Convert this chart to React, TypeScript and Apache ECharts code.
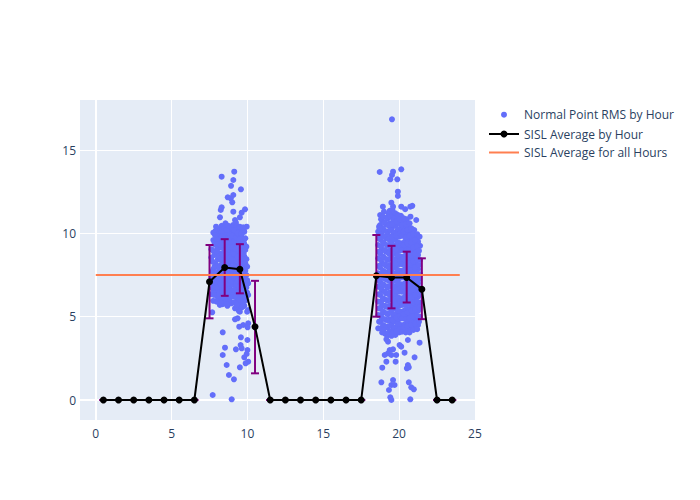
import React, { useEffect, useRef } from "react";
import * as echarts from "echarts";

// Hour bins and per-hour SISL averages with error ranges
const hours = [0.5, 1.5, 2.5, 3.5, 4.5, 5.5, 6.5, 7.5, 8.5, 9.5, 10.5, 11.5, 12.5, 13.5, 14.5, 15.5, 16.5, 17.5, 18.5, 19.5, 20.5, 21.5, 22.5, 23.5];
const avgByHour = [0, 0, 0, 0, 0, 0, 0, 7.1, 7.95, 7.85, 4.4, 0, 0, 0, 0, 0, 0, 0, 7.45, 7.35, 7.35, 6.65, 0, 0];
const errLow = [0, 0, 0, 0, 0, 0, 0, 4.9, 6.25, 6.4, 1.6, 0, 0, 0, 0, 0, 0, 0, 5.0, 5.5, 5.85, 4.85, 0, 0];
const errHigh = [0, 0, 0, 0, 0, 0, 0, 9.3, 9.65, 9.35, 7.15, 0, 0, 0, 0, 0, 0, 0, 9.9, 9.25, 8.9, 8.5, 0, 0];
const overallAvg = 7.5;
const overallRange = [0, 24];

const xTicks = [0, 5, 10, 15, 20, 25];
const yTicks = [0, 5, 10, 15];

// Morning cluster: isolated points
const amScattered: number[][] = [
  [9.13, 13.7], [8.3, 13.4], [9.07, 13.2], [8.92, 12.85], [9.57, 12.64], [8.7, 12.16], [9.07, 12.3], [8.9, 12.1],
  [9.0, 11.86], [8.3, 11.56], [8.24, 11.4], [9.07, 11.3], [9.84, 11.44], [9.62, 11.24], [8.19, 10.96], [9.5, 10.96],
  [9.24, 10.64], [9.95, 10.4], [9.72, 10.36], [7.93, 10.4], [7.75, 10.04], [7.86, 9.9], [8.3, 10.06], [8.34, 9.8],
  [7.75, 6.4], [7.8, 6.3], [8.26, 5.86], [8.63, 5.74], [9.29, 5.7], [7.68, 5.26], [9.68, 5.6], [9.5, 5.3],
  [9.18, 4.84], [9.35, 4.9], [9.72, 4.5], [9.46, 4.4], [10.01, 4.36], [8.37, 4.06], [9.57, 3.76], [10.0, 3.6],
  [8.52, 3.14], [9.24, 3.04], [9.55, 3.3], [9.62, 3.1], [10.0, 3.0], [9.95, 2.76], [9.79, 2.56], [10.05, 2.3],
  [9.88, 2.2], [8.37, 2.7], [9.5, 1.96], [8.63, 2.1], [8.78, 1.5], [9.11, 1.24], [7.71, 0.3], [8.96, 0.04],
];

// Morning cluster: dense core, by column
const amCore: [number, number[]][] = [
  [7.62, [6.35, 7.4, 8.55, 9.05]],
  [7.75, [5.95, 6.9, 7.85, 8.95, 9.6]],
  [7.9, [6.5, 7.3, 8.2, 9.3, 10.15]],
  [8.05, [6.15, 6.95, 7.65, 8.45, 9.1, 9.85]],
  [8.18, [5.7, 6.6, 7.35, 8.05, 8.8, 9.5, 10.25]],
  [8.3, [6.05, 6.8, 7.55, 8.35, 9.15, 9.7, 10.45]],
  [8.42, [5.85, 6.45, 7.15, 7.9, 8.65, 9.35, 10.05]],
  [8.55, [6.25, 6.95, 7.7, 8.4, 9.05, 9.8, 10.6]],
  [8.68, [5.65, 6.4, 7.05, 7.8, 8.55, 9.25, 9.95]],
  [8.8, [6.1, 6.75, 7.45, 8.2, 8.9, 9.6, 10.35]],
  [8.93, [5.8, 6.55, 7.25, 7.95, 8.7, 9.4, 10.1]],
  [9.05, [6.2, 6.9, 7.6, 8.3, 9.0, 9.75, 10.5]],
  [9.18, [5.5, 6.45, 7.15, 7.85, 8.6, 9.3, 10.05, 10.8]],
  [9.3, [5.95, 6.7, 7.4, 8.1, 8.85, 9.55, 10.25]],
  [9.43, [5.35, 6.25, 6.95, 7.65, 8.4, 9.1, 9.85]],
  [9.55, [5.8, 6.55, 7.3, 8.0, 8.75, 9.45, 10.15]],
  [9.68, [6.1, 6.85, 7.55, 8.25, 9.0, 9.7]],
  [9.8, [5.65, 6.4, 7.15, 7.9, 8.6, 9.35, 10.1]],
  [9.93, [6.0, 6.75, 7.5, 8.45, 9.2]],
  [10.05, [4.6, 5.4, 6.3, 7.0]],
];
const amCore2: [number, number[]][] = [
  [7.7, [6.7, 7.7, 8.3]],
  [7.83, [6.4, 7.1, 8.0, 8.7, 9.45]],
  [7.97, [5.9, 6.75, 7.5, 8.0, 8.9, 9.65]],
  [8.12, [6.4, 7.15, 7.9, 8.6, 9.35, 10.0]],
  [8.24, [5.95, 6.95, 7.75, 8.5, 9.3, 9.95]],
  [8.36, [5.75, 6.5, 7.2, 7.95, 8.75, 9.45, 10.2]],
  [8.48, [6.1, 6.75, 7.45, 8.2, 8.95, 9.6, 10.3]],
  [8.61, [5.95, 6.6, 7.35, 8.05, 8.75, 9.5, 10.2]],
  [8.74, [6.35, 7.0, 7.7, 8.35, 9.05, 9.75, 10.45]],
  [8.86, [5.9, 6.45, 7.15, 7.85, 8.55, 9.2, 9.95]],
  [8.99, [6.5, 7.1, 7.75, 8.45, 9.15, 9.85, 10.35]],
  [9.11, [5.85, 6.6, 7.35, 8.0, 8.8, 9.5, 10.2]],
  [9.24, [6.2, 6.95, 7.65, 8.4, 9.05, 9.75, 10.5]],
  [9.36, [5.6, 6.45, 7.15, 7.85, 8.6, 9.3, 10.0]],
  [9.49, [6.05, 6.8, 7.5, 8.2, 8.95, 9.65, 10.4]],
  [9.61, [5.55, 6.3, 7.05, 7.75, 8.5, 9.25, 9.95]],
  [9.74, [5.85, 6.6, 7.35, 8.05, 8.8, 9.5, 10.2]],
  [9.86, [6.2, 7.0, 7.75, 8.2, 9.0, 9.7]],
  [9.98, [5.3, 6.45, 7.2, 8.0]],
];

// Evening cluster: isolated points
const pmScattered: number[][] = [
  [19.53, 16.84], [18.72, 13.68], [19.6, 13.7], [19.53, 13.5], [20.14, 13.84], [19.42, 13.24], [19.88, 13.24],
  [19.92, 12.5], [19.92, 12.24], [18.93, 11.6], [19.49, 11.84], [19.6, 11.6], [20.14, 11.6], [20.74, 11.6],
  [20.87, 11.65], [20.4, 11.45], [21.13, 10.8], [21.35, 9.8], [18.72, 10.3],
  [18.98, 4.2], [21.35, 3.44], [19.16, 3.64], [19.27, 3.5], [20.58, 3.6], [20.03, 3.3], [20.14, 3.2],
  [19.38, 3.0], [19.6, 3.04], [19.27, 2.8], [19.49, 2.7], [19.05, 2.7], [20.36, 2.84], [21.02, 2.56],
  [19.81, 2.7], [19.77, 2.3], [19.16, 2.3], [20.58, 2.1], [20.51, 1.9], [20.64, 1.96], [18.89, 1.94],
  [18.83, 1.06], [19.6, 1.2], [19.49, 0.9], [19.7, 0.9], [19.33, 0.6], [20.64, 1.06], [20.8, 0.76],
  [20.97, 0.64], [19.42, 0.16], [19.49, 0.0], [20.74, 0.04],
];

// Evening cluster: dense core, by column
const pmCore: [number, number[]][] = [
  [18.62, [4.3, 5.1, 5.9, 6.8, 7.6, 8.5, 9.3, 10.1]],
  [18.75, [4.7, 5.5, 6.3, 7.1, 7.95, 8.8, 9.65, 10.5, 11.1]],
  [18.88, [4.05, 4.9, 5.7, 6.55, 7.35, 8.2, 9.0, 9.9, 10.75]],
  [19.0, [4.45, 5.25, 6.05, 6.9, 7.7, 8.55, 9.4, 10.2, 11.3]],
  [19.13, [3.95, 4.8, 5.6, 6.4, 7.25, 8.05, 8.9, 9.7, 10.55]],
  [19.25, [4.35, 5.15, 5.95, 6.75, 7.55, 8.4, 9.25, 10.05, 10.9]],
  [19.38, [4.1, 4.85, 5.65, 6.45, 7.3, 8.1, 8.95, 9.8, 10.6, 11.35]],
  [19.5, [3.85, 4.6, 5.4, 6.2, 7.0, 7.85, 8.65, 9.5, 10.3, 11.1]],
  [19.62, [4.25, 5.05, 5.85, 6.65, 7.45, 8.3, 9.1, 9.95, 10.8]],
  [19.75, [3.9, 4.7, 5.5, 6.3, 7.15, 7.95, 8.8, 9.6, 10.45, 11.2]],
  [19.88, [4.4, 5.2, 6.0, 6.85, 7.65, 8.5, 9.3, 10.15, 11.0]],
  [20.0, [4.05, 4.85, 5.65, 6.5, 7.3, 8.15, 8.95, 9.8, 10.6]],
  [20.12, [4.5, 5.3, 6.1, 6.95, 7.75, 8.6, 9.4, 10.3, 11.05]],
  [20.25, [4.15, 4.95, 5.75, 6.6, 7.4, 8.25, 9.05, 9.9, 10.7]],
  [20.38, [4.55, 5.4, 6.2, 7.0, 7.85, 8.65, 9.5, 10.35]],
  [20.5, [4.2, 5.0, 5.85, 6.7, 7.5, 8.3, 9.15, 10.0, 10.85]],
  [20.62, [4.6, 5.45, 6.3, 7.1, 7.95, 8.75, 9.6, 10.4]],
  [20.75, [4.3, 5.15, 5.95, 6.8, 7.6, 8.45, 9.25, 10.1, 11.0]],
  [20.88, [4.7, 5.55, 6.35, 7.2, 8.05, 8.85, 9.7]],
  [21.0, [4.4, 5.2, 6.05, 6.9, 7.7, 8.55, 9.4, 10.2]],
  [21.12, [4.85, 5.7, 6.5, 7.35, 8.15, 9.0, 9.8]],
  [21.25, [4.5, 5.35, 6.2, 7.0, 7.85, 8.7, 9.5]],
  [21.38, [5.0, 5.85, 6.7, 7.55, 8.4, 9.25]],
];
const pmCore2: [number, number[]][] = [
  [18.68, [4.7, 5.5, 6.35, 7.2, 8.05, 8.9, 9.7, 10.4]],
  [18.81, [4.3, 5.1, 5.9, 6.7, 7.55, 8.4, 9.2, 10.1, 10.85]],
  [18.94, [4.5, 5.3, 6.1, 6.95, 7.75, 8.6, 9.45, 10.3, 11.0]],
  [19.06, [4.0, 4.85, 5.65, 6.5, 7.3, 8.15, 9.0, 9.8, 10.65]],
  [19.19, [4.4, 5.2, 6.0, 6.8, 7.65, 8.45, 9.3, 10.1, 10.95]],
  [19.31, [3.9, 4.75, 5.55, 6.35, 7.15, 7.95, 8.8, 9.65, 10.45, 11.2]],
  [19.44, [4.45, 5.25, 6.05, 6.85, 7.7, 8.5, 9.35, 10.2, 11.0]],
  [19.56, [4.0, 4.8, 5.6, 6.45, 7.25, 8.05, 8.9, 9.75, 10.55, 11.4]],
  [19.69, [4.35, 5.15, 6.0, 6.8, 7.6, 8.45, 9.25, 10.05, 10.9]],
  [19.81, [4.1, 4.95, 5.75, 6.55, 7.4, 8.2, 9.05, 9.85, 10.7]],
  [19.94, [4.55, 5.35, 6.15, 7.0, 7.8, 8.65, 9.45, 10.25, 11.1]],
  [20.06, [4.25, 5.05, 5.9, 6.7, 7.55, 8.35, 9.2, 10.0, 10.85]],
  [20.19, [4.1, 4.9, 5.7, 6.5, 7.35, 8.15, 9.0, 9.85, 10.5]],
  [20.31, [4.35, 5.15, 6.0, 6.8, 7.65, 8.45, 9.3, 10.1, 10.9]],
  [20.44, [4.05, 4.85, 5.7, 6.5, 7.3, 8.1, 8.95, 9.75, 10.55]],
  [20.56, [4.45, 5.25, 6.1, 6.9, 7.75, 8.55, 9.4, 10.2]],
  [20.69, [4.05, 4.9, 5.75, 6.55, 7.4, 8.2, 9.0, 9.85, 10.6]],
  [20.81, [4.5, 5.35, 6.15, 7.0, 7.8, 8.65, 9.45, 10.3]],
  [20.94, [4.2, 5.0, 5.85, 6.65, 7.5, 8.3, 9.15, 9.95]],
  [21.06, [4.6, 5.45, 6.3, 7.1, 7.95, 8.8, 9.6]],
  [21.19, [4.25, 5.05, 5.9, 6.75, 7.55, 8.4, 9.2, 9.95]],
  [21.31, [4.7, 5.55, 6.4, 7.25, 8.1, 8.95]],
];

const FONT = '"Open Sans", verdana, arial, sans-serif';
const TXT = "#2a3f5f";
const BLUE = "#636efa";
const CORAL = "#ff7f50";
const PURPLE = "#800080";

export default function App() {
  const ref = useRef<HTMLDivElement>(null);
  useEffect(() => {
    if (!ref.current) return;
    const chart = echarts.init(ref.current, null, { renderer: "svg" });
    const flatten = (cols: [number, number[]][]) => cols.flatMap(([x, ys]) => ys.map((y) => [x, y]));
    const points = [
      ...flatten(amCore), ...flatten(amCore2), ...amScattered,
      ...flatten(pmCore), ...flatten(pmCore2), ...pmScattered,
    ];
    const avgData = hours.map((h, i) => [h, avgByHour[i]]);
    const errData = hours.map((h, i) => [h, errLow[i], errHigh[i]]);

    const legendY = [114.7, 134, 152.5];
    chart.setOption({
      animation: false,
      backgroundColor: "#ffffff",
      textStyle: { fontFamily: FONT },
      grid: { left: 80, right: 224, top: 100, bottom: 80, show: true, backgroundColor: "#e5ecf6", borderWidth: 0 },
      xAxis: {
        type: "value",
        min: -1.04,
        max: 25.07,
        axisLine: { show: false },
        axisTick: { show: false, customValues: xTicks },
        axisLabel: { customValues: xTicks, color: TXT, fontSize: 12, fontFamily: FONT, margin: 7 },
        splitLine: { show: true, lineStyle: { color: "#ffffff", width: 1 } },
      },
      yAxis: {
        type: "value",
        min: -1.2,
        max: 18,
        axisLine: { show: false },
        axisTick: { show: false, customValues: yTicks },
        axisLabel: { customValues: yTicks, color: TXT, fontSize: 12, fontFamily: FONT, margin: 4 },
        splitLine: { show: true, lineStyle: { color: "#ffffff", width: 1 } },
      },
      series: [
        {
          type: "scatter",
          data: [],
          z: 1,
          silent: true,
          markLine: {
            silent: true,
            z: 1,
            symbol: "none",
            label: { show: false },
            lineStyle: { color: "#ffffff", width: 2, type: "solid" },
            data: [{ xAxis: 0 }, { yAxis: 0 }],
          },
        },
        {
          name: "Normal Point RMS by Hour",
          type: "scatter",
          data: points,
          symbol: "circle",
          symbolSize: 6,
          itemStyle: { color: BLUE, opacity: 1 },
          z: 2,
        },
        {
          type: "custom",
          z: 3,
          data: errData,
          renderItem: (params: any, api: any) => {
            const x = api.value(0);
            const top = api.coord([x, api.value(2)]);
            const bot = api.coord([x, api.value(1)]);
            const w = 4;
            const st = { stroke: PURPLE, lineWidth: 2 };
            return {
              type: "group",
              children: [
                { type: "line", shape: { x1: top[0], y1: top[1], x2: bot[0], y2: bot[1] }, style: st },
                { type: "line", shape: { x1: top[0] - w, y1: top[1], x2: top[0] + w, y2: top[1] }, style: st },
                { type: "line", shape: { x1: bot[0] - w, y1: bot[1], x2: bot[0] + w, y2: bot[1] }, style: st },
              ],
            };
          },
        },
        {
          name: "SISL Average by Hour",
          type: "line",
          data: avgData,
          z: 4,
          symbol: "circle",
          symbolSize: 7,
          showSymbol: true,
          lineStyle: { color: "#000000", width: 2 },
          itemStyle: { color: "#000000" },
        },
        {
          name: "SISL Average for all Hours",
          type: "line",
          data: overallRange.map((x) => [x, overallAvg]),
          z: 5,
          symbol: "none",
          lineStyle: { color: CORAL, width: 2 },
        },
      ],
      graphic: [
        { type: "circle", shape: { cx: 504, cy: legendY[0], r: 3 }, style: { fill: BLUE } },
        { type: "text", style: { x: 524, y: legendY[0], text: "Normal Point RMS by Hour", fill: TXT, font: `12px ${FONT}`, verticalAlign: "middle" } },
        { type: "line", shape: { x1: 489, y1: legendY[1], x2: 519, y2: legendY[1] }, style: { stroke: "#000", lineWidth: 2 } },
        { type: "circle", shape: { cx: 504, cy: legendY[1], r: 3.5 }, style: { fill: "#000" } },
        { type: "text", style: { x: 524, y: legendY[1], text: "SISL Average by Hour", fill: TXT, font: `12px ${FONT}`, verticalAlign: "middle" } },
        { type: "line", shape: { x1: 489, y1: legendY[2], x2: 519, y2: legendY[2] }, style: { stroke: CORAL, lineWidth: 2 } },
        { type: "text", style: { x: 524, y: legendY[2], text: "SISL Average for all Hours", fill: TXT, font: `12px ${FONT}`, verticalAlign: "middle" } },
      ],
    });
    return () => chart.dispose();
  }, []);
  return <div ref={ref} style={{ width: 700, height: 500, position: "absolute", left: 0, top: 0 }} />;
}
